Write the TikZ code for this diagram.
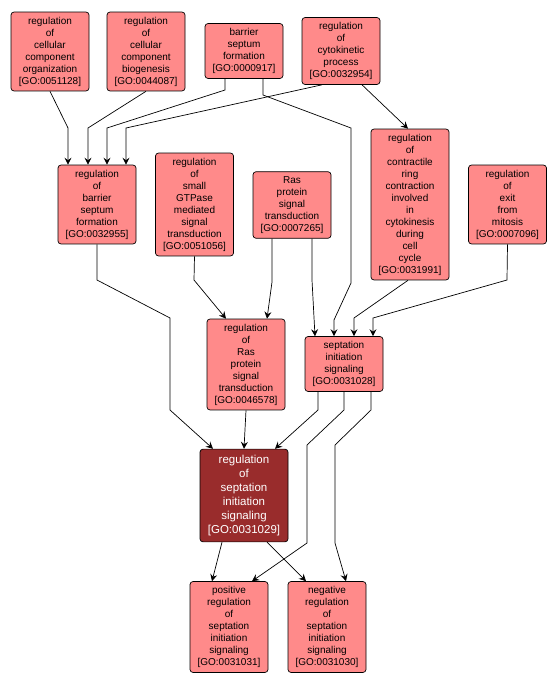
\documentclass[tikz,border=0pt]{standalone}
\usepackage{fontspec}
\setmainfont{Liberation Sans}
\usetikzlibrary{arrows.meta}
\definecolor{termfill}{RGB}{255,138,138}
\definecolor{focusfill}{RGB}{153,44,44}
\begin{document}
\begin{tikzpicture}[x=1pt,y=-1pt,
    term/.style={draw=black, fill=termfill, rounded corners=3pt, align=center, minimum width=78pt, inner xsep=2pt, inner ysep=4.8pt, line width=0.7pt, font=\fontsize{10}{12}\selectfont},
    focus/.style={term, fill=focusfill, text=white, minimum width=88pt, inner ysep=6pt, font=\fontsize{11.5}{14}\selectfont},
    edge/.style={draw=black, line width=0.7pt, -{Stealth[length=7pt,width=7pt,inset=2.5pt]}}]
    \useasboundingbox (0,0) rectangle (557,686);
    % top row
    \node[term] (n51128) at (50,51.5) {regulation\\of\\cellular\\component\\organization\\{[GO:0051128]}};
    \node[term] (n44087) at (146,51.5) {regulation\\of\\cellular\\component\\biogenesis\\{[GO:0044087]}};
    \node[term] (n917) at (244,51) {barrier\\septum\\formation\\{[GO:0000917]}};
    \node[term] (n32954) at (341,51) {regulation\\of\\cytokinetic\\process\\{[GO:0032954]}};
    % second row
    \node[term] (n32955) at (97,204.5) {regulation\\of\\barrier\\septum\\formation\\{[GO:0032955]}};
    \node[term] (n51056) at (194.5,204.5) {regulation\\of\\small\\GTPase\\mediated\\signal\\transduction\\{[GO:0051056]}};
    \node[term] (n7265) at (292,205) {Ras\\protein\\signal\\transduction\\{[GO:0007265]}};
    \node[term] (n31991) at (410,204.5) {regulation\\of\\contractile\\ring\\contraction\\involved\\in\\cytokinesis\\during\\cell\\cycle\\{[GO:0031991]}};
    \node[term] (n7096) at (507.5,204.5) {regulation\\of\\exit\\from\\mitosis\\{[GO:0007096]}};
    % third row
    \node[term] (n46578) at (246,364.5) {regulation\\of\\Ras\\protein\\signal\\transduction\\{[GO:0046578]}};
    \node[term] (n31028) at (344,364) {septation\\initiation\\signaling\\{[GO:0031028]}};
    % focus term
    \node[focus] (n31029) at (244,495.5) {regulation\\of\\septation\\initiation\\signaling\\{[GO:0031029]}};
    % bottom row
    \node[term] (n31031) at (229,627) {positive\\regulation\\of\\septation\\initiation\\signaling\\{[GO:0031031]}};
    \node[term] (n31030) at (327,627) {negative\\regulation\\of\\septation\\initiation\\signaling\\{[GO:0031030]}};

    % edges into regulation of barrier septum formation
    \draw[edge] (n51128.south) -- (68,128) -- ([xshift=-29pt]n32955.north);
    \draw[edge] (n44087.south) -- (88,128) -- ([xshift=-9pt]n32955.north);
    \draw[edge] ([xshift=-19pt]n917.south) -- (225,90) -- (107,128) -- ([xshift=10pt]n32955.north);
    \draw[edge] ([xshift=-19pt]n32954.south) -- (126,128) -- ([xshift=29pt]n32955.north);
    \draw[edge] ([xshift=21pt]n32954.south) -- ([xshift=-2pt]n31991.north);
    % edges into septation initiation signaling
    \draw[edge] ([xshift=19pt]n917.south) -- (263,95) -- (351,128) -- (351,283) -- (334,320) -- ([xshift=-10pt]n31028.north);
    \draw[edge] ([xshift=20pt]n7265.south) -- (312,280) -- ([xshift=-29pt]n31028.north);
    \draw[edge] ([xshift=-2pt]n31991.south) -- (354,318) -- ([xshift=10pt]n31028.north);
    \draw[edge] (n7096.south) -- (507,280) -- (373,318) -- ([xshift=29pt]n31028.north);
    % edges into regulation of Ras protein signal transduction
    \draw[edge] (n51056.south) -- (194,280) -- ([xshift=-20pt]n46578.north);
    \draw[edge] ([xshift=-20pt]n7265.south) -- (272,282) -- ([xshift=21pt]n46578.north);
    % edges into the focus term
    \draw[edge] (n32955.south) -- (97,280) -- (170,318) -- (170,410) -- ([xshift=-31pt]n31029.north);
    \draw[edge] (n46578.south) -- (n31029.north);
    \draw[edge] ([xshift=-26pt]n31028.south) -- (318,410) -- ([xshift=31pt]n31029.north);
    % edges into the bottom row
    \draw[edge] (n31028.south) -- (344,410) -- (307,445) -- (307,543) -- ([xshift=23pt]n31031.north);
    \draw[edge] ([xshift=27pt]n31028.south) -- (371,410) -- (335,445) -- (335,543) -- ([xshift=19pt]n31030.north);
    \draw[edge] ([xshift=-22pt]n31029.south) -- ([xshift=-17pt]n31031.north);
    \draw[edge] ([xshift=23pt]n31029.south) -- ([xshift=-21pt]n31030.north);
\end{tikzpicture}
\end{document}
